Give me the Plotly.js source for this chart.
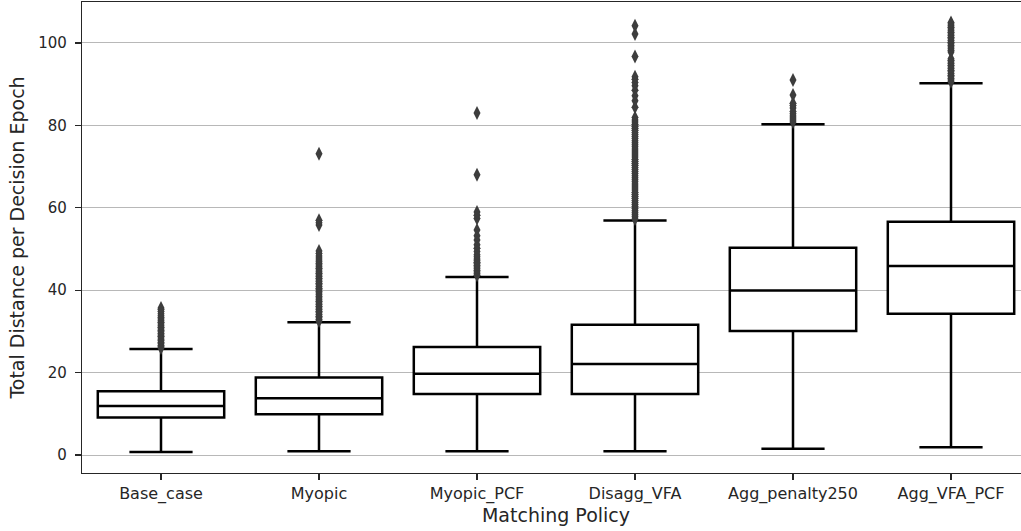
<!DOCTYPE html>
<html>
<head>
<meta charset="utf-8">
<script src="https://cdn.plot.ly/plotly-3.0.1.min.js"></script>
<style>
  html, body { margin: 0; padding: 0; overflow: hidden; background: #ffffff; }
  #chart { width: 1031px; height: 531px; }
</style>
</head>
<body>
<div id="chart"></div>
<script>
// Matching policies on the x axis
const policies = ["Base_case", "Myopic", "Myopic_PCF", "Disagg_VFA", "Agg_penalty250", "Agg_VFA_PCF"];

// Box statistics: total distance per decision epoch
const lowerWhisker = [0.7, 0.9, 0.9, 0.9, 1.5, 1.9];
const q1Values     = [9.1, 9.9, 14.8, 14.8, 30.1, 34.3];
const medianValues = [11.9, 13.8, 19.7, 22.1, 39.9, 45.9];
const q3Values     = [15.5, 18.8, 26.2, 31.6, 50.3, 56.6];
const upperWhisker = [25.7, 32.2, 43.2, 56.9, 80.3, 90.2];

// Outlying epochs per policy
const outliersBase = [26.0, 26.3, 26.6, 27.0, 27.3, 27.7, 28.0, 28.4, 28.8, 29.1, 29.5, 29.9,
  30.2, 30.6, 31.0, 31.4, 31.8, 32.2, 32.6, 33.0, 33.4, 33.8, 34.3, 34.8, 35.3, 35.7];
const outliersMyopic = [32.5, 32.9, 33.3, 33.7, 34.1, 34.5, 34.9, 35.3, 35.7, 36.1, 36.5, 36.9,
  37.3, 37.7, 38.1, 38.5, 38.9, 39.3, 39.7, 40.1, 40.5, 40.9, 41.3, 41.7, 42.1, 42.5, 42.9,
  43.3, 43.7, 44.1, 44.5, 44.9, 45.3, 45.7, 46.1, 46.5, 46.9, 47.3, 47.8, 48.3, 48.9, 49.5,
  55.8, 56.4, 57.0, 73.1];
const outliersMyopicPCF = [43.6, 44.0, 44.4, 44.8, 45.2, 45.6, 46.0, 46.4, 46.8, 47.2, 47.6,
  48.1, 48.6, 49.4, 50.2, 51.0, 52.2, 53.2, 54.6, 57.4, 58.2, 59.0, 68.0, 83.0];
const outliersDisagg = [57.3, 57.8, 58.3, 58.8, 59.3, 59.8, 60.3, 60.8, 61.3, 61.8, 62.3, 62.8,
  63.3, 63.8, 64.3, 64.8, 65.3, 65.8, 66.3, 66.8, 67.3, 67.8, 68.3, 68.8, 69.3, 69.8, 70.3,
  70.8, 71.3, 71.8, 72.3, 72.8, 73.3, 73.8, 74.3, 74.8, 75.3, 75.8, 76.3, 76.8, 77.3, 77.8,
  78.3, 78.8, 79.3, 79.8, 80.3, 80.8, 81.3, 81.9, 84.4, 86.0, 87.2, 88.5, 89.6, 90.4, 91.2,
  91.8, 96.7, 102.2, 104.2];
const outliersAggPenalty = [80.8, 81.3, 81.8, 82.3, 82.8, 83.4, 84.2, 84.8, 85.4, 87.4, 91.0];
const outliersAggVFA = [90.6, 91.0, 91.4, 91.8, 92.2, 92.6, 93.0, 93.4, 93.8, 94.2, 94.6, 95.0,
  95.4, 95.8, 96.2, 97.8, 98.2, 98.6, 99.0, 99.4, 99.8, 100.2, 100.6, 101.0, 101.4, 101.8,
  102.2, 102.6, 103.0, 103.4, 103.8, 104.2, 104.6, 105.0];

const outlierGroups = [outliersBase, outliersMyopic, outliersMyopicPCF,
  outliersDisagg, outliersAggPenalty, outliersAggVFA];

// Flatten the outliers into x/y pairs for one scatter trace
const outX = [];
const outY = [];
outlierGroups.forEach((vals, i) => {
  vals.forEach(v => { outX.push(policies[i]); outY.push(v); });
});

const textColor = "#262626";
const fontFamily = "DejaVu Sans, sans-serif";

const boxes = {
  type: "box",
  x: policies,
  q1: q1Values,
  median: medianValues,
  q3: q3Values,
  lowerfence: lowerWhisker,
  upperfence: upperWhisker,
  boxpoints: false,
  width: 0.8,
  whiskerwidth: 0.5,
  fillcolor: "#ffffff",
  line: { color: "#000000", width: 2.5 },
  hoverinfo: "skip",
  showlegend: false
};

const fliers = {
  type: "scatter",
  mode: "markers",
  x: outX,
  y: outY,
  marker: { symbol: "diamond-tall", size: 10, color: "#3d3d3d" },
  hoverinfo: "skip",
  showlegend: false,
  cliponaxis: false
};

const layout = {
  width: 1031,
  height: 531,
  margin: { l: 82, r: 1, t: 2, b: 58 },
  paper_bgcolor: "#ffffff",
  plot_bgcolor: "#ffffff",
  font: { family: fontFamily, color: textColor, size: 15 },
  showlegend: false,
  xaxis: {
    type: "category",
    categoryorder: "array",
    categoryarray: policies,
    range: [-0.5, 5.5],
    showgrid: false,
    zeroline: false,
    showline: true,
    mirror: true,
    linecolor: "#262626",
    linewidth: 1.2,
    ticks: "outside",
    ticklen: 6,
    tickwidth: 1.2,
    tickcolor: "#262626",
    tickfont: { size: 16, color: textColor },
    title: { text: "Matching Policy", font: { size: 19, color: textColor }, standoff: 5 }
  },
  yaxis: {
    range: [-4.37, 109.95],
    tickvals: [0, 20, 40, 60, 80, 100],
    showgrid: true,
    gridcolor: "#b8b8b8",
    gridwidth: 1,
    zeroline: false,
    showline: true,
    mirror: true,
    linecolor: "#262626",
    linewidth: 1.2,
    ticks: "outside",
    ticklen: 6,
    tickwidth: 1.2,
    tickcolor: "#262626",
    ticklabelstandoff: 5,
    tickfont: { size: 15, color: textColor },
    title: { text: "Total Distance per Decision Epoch", font: { size: 19, color: textColor }, standoff: 8 }
  }
};

Plotly.newPlot("chart", [boxes, fliers], layout, { displayModeBar: false, staticPlot: true });
</script>
</body>
</html>
